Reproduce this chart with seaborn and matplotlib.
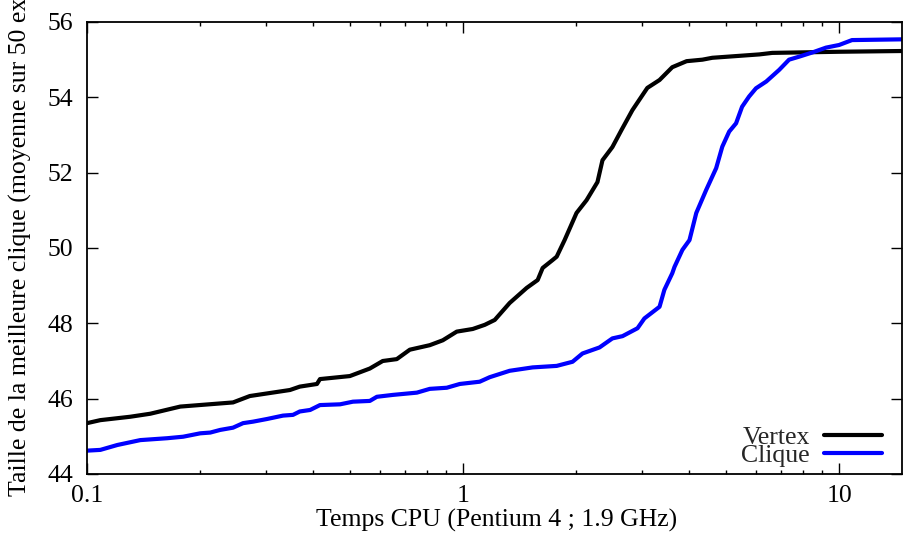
import numpy as np
import pandas as pd
import matplotlib
matplotlib.use("Agg")
import matplotlib.pyplot as plt
from matplotlib.ticker import FixedLocator, LogLocator, NullFormatter
from matplotlib.lines import Line2D
import seaborn as sns

# ---- data ----
vertex_x = [0.1, 0.1085, 0.1303, 0.1473, 0.177, 0.2445, 0.271, 0.3465, 0.368, 0.4088,
            0.4164, 0.5, 0.565, 0.6115, 0.6664, 0.7217, 0.8155, 0.8833, 0.962, 1.061,
            1.142, 1.214, 1.33, 1.476, 1.579, 1.628, 1.73, 1.774, 1.862, 2.003, 2.13,
            2.277, 2.348, 2.495, 2.637, 2.82, 3.0, 3.09, 3.33, 3.6, 3.93, 4.33, 4.6,
            6.14, 6.64, 10.0, 14.74]
vertex_y = [45.35, 45.43, 45.52, 45.6, 45.79, 45.9, 46.07, 46.23, 46.32, 46.39,
            46.52, 46.6, 46.8, 47.0, 47.05, 47.3, 47.42, 47.55, 47.78, 47.85,
            47.96, 48.09, 48.54, 48.94, 49.15, 49.47, 49.68, 49.77, 50.21, 50.93, 51.27,
            51.75, 52.33, 52.68, 53.13, 53.66, 54.06, 54.25, 54.46, 54.8, 54.96, 55.0, 55.05,
            55.14, 55.18, 55.21, 55.23]

clique_x = [0.1, 0.1085, 0.1204, 0.1386, 0.1634, 0.1802, 0.2, 0.2127, 0.226, 0.2445,
            0.26, 0.2765, 0.301, 0.332, 0.353, 0.368, 0.392, 0.4164, 0.471, 0.5095,
            0.565, 0.59, 0.6505, 0.7536, 0.8155, 0.905, 0.98, 1.107, 1.177, 1.33,
            1.531, 1.774, 1.955, 2.078, 2.306, 2.495, 2.655, 2.91, 3.035, 3.33, 3.43,
            3.6, 3.65, 3.83, 4.0, 4.17, 4.43, 4.71, 4.89, 5.1, 5.32, 5.52, 5.76, 6.01,
            6.4, 6.93, 7.36, 7.83, 8.48, 9.23, 10.0, 10.82, 14.74]
clique_y = [44.62, 44.64, 44.77, 44.9, 44.95, 44.99, 45.08, 45.1, 45.17, 45.23,
            45.35, 45.39, 45.46, 45.55, 45.57, 45.66, 45.7, 45.83, 45.85, 45.92,
            45.94, 46.05, 46.1, 46.16, 46.26, 46.29, 46.39, 46.45, 46.57, 46.74,
            46.83, 46.87, 46.98, 47.2, 47.36, 47.6, 47.66, 47.87, 48.13, 48.44, 48.89,
            49.33, 49.5, 49.95, 50.21, 50.93, 51.54, 52.12, 52.69, 53.09, 53.31, 53.75, 54.02, 54.24,
            54.42, 54.73, 55.0, 55.08, 55.19, 55.32, 55.39, 55.52, 55.54]

series_names = ["Vertex", "Clique"]
series_colors = ["#000000", "#0000ff"]
x_ticks = [0.1, 1, 10]
x_tick_labels = ["0.1", "1", "10"]
y_ticks = [44, 46, 48, 50, 52, 54, 56]
x_label = "Temps CPU (Pentium 4 ; 1.9 GHz)"
y_label = "Taille de la meilleure clique (moyenne sur 50 executions)"

df = pd.concat([
    pd.DataFrame({"x": vertex_x, "y": vertex_y, "serie": series_names[0]}),
    pd.DataFrame({"x": clique_x, "y": clique_y, "serie": series_names[1]}),
], ignore_index=True)

sns.set_style("ticks")
plt.rcParams["font.family"] = ["Liberation Serif", "DejaVu Serif"]

W, H = 904, 533
FS = 18.5
fig = plt.figure(figsize=(W / 100, H / 100), dpi=100)
ax = fig.add_axes([87 / W, (H - 474) / H, (902.5 - 87) / W, (474 - 22) / H])

sns.lineplot(data=df, x="x", y="y", hue="serie", palette=dict(zip(series_names, series_colors)),
             estimator=None, sort=False, linewidth=3.0, ax=ax, legend=False)

ax.set_xscale("log")
ax.set_xlim(0.1, 14.74)
ax.set_ylim(44, 56)
ax.xaxis.set_major_locator(FixedLocator(x_ticks))
ax.set_xticklabels(x_tick_labels)
ax.xaxis.set_minor_locator(LogLocator(base=10, subs=np.arange(2, 10), numticks=20))
ax.xaxis.set_minor_formatter(NullFormatter())
ax.set_yticks(y_ticks)
ax.set_yticklabels([str(v) for v in y_ticks])

ax.tick_params(which="both", direction="in", top=True, right=True, width=1.0, color="black",
               labelsize=FS, labelcolor="black")
ax.tick_params(which="major", length=8)
ax.tick_params(which="minor", length=3)
ax.tick_params(axis="x", pad=8)
ax.tick_params(axis="y", pad=10)
for s in ax.spines.values():
    s.set_visible(True)
    s.set_linewidth(1.3)
    s.set_color("black")

ax.set_xlabel("")
ax.set_ylabel("")
fig.text(497 / W, 1 - 520 / H, x_label, ha="center", va="center", fontsize=FS, color="black")
fig.text(20 / W, 1 - 496 / H, y_label, rotation=90, ha="center", va="bottom", fontsize=FS,
         color="black")

handles = [Line2D([], [], color=c, linewidth=3.0) for c in series_colors]
leg = ax.legend(handles, series_names, loc="lower right", markerfirst=False, frameon=False,
                fontsize=FS, handlelength=2.25, labelspacing=-0.22, handletextpad=0.55,
                borderaxespad=0.0,
                bbox_to_anchor=((892 - 87) / (902.5 - 87), (474 - 477) / (474 - 22)))

fig.savefig("out.png", dpi=100)
